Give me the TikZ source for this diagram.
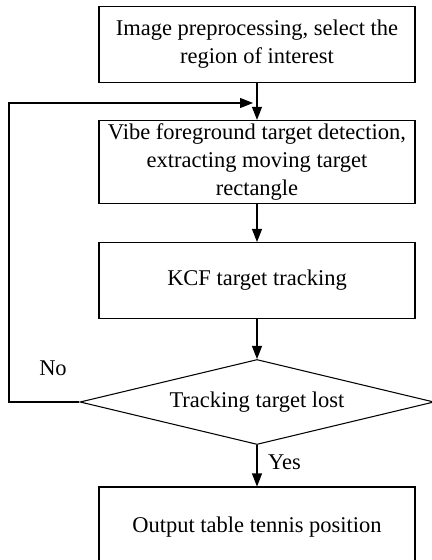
\documentclass[tikz,border=0pt]{standalone}
\usepackage{fontspec}
\setmainfont{Liberation Serif}
\usepackage{tikz}
\usetikzlibrary{arrows.meta,positioning,calc,shapes.geometric}

\begin{document}
\begin{tikzpicture}[
  font=\fontsize{12.8}{15.8}\selectfont,
  box/.style={draw,line width=0.6pt,align=center,inner sep=2pt,
              minimum width=6.32cm,minimum height=1.52cm},
  test/.style={draw,diamond,line width=0.6pt,inner sep=0pt,aspect=4.16,
               minimum width=7.08cm,minimum height=1.7cm},
  flow/.style={-{Triangle[length=2.6mm,width=2mm]},line width=0.6pt},
  lbl/.style={inner sep=2pt},
]
  \useasboundingbox (0,0) rectangle (8.62,-11.2);

  \node[box]  (prep)  at (5.14,-0.89)  {Image preprocessing, select the\\
                                        region of interest};
  \node[box]  (vibe)  at (5.14,-3.24)  {Vibe foreground target detection,\\
                                        extracting moving target\\
                                        rectangle};
  \node[box]  (kcf)   at (5.14,-5.61)  {KCF target tracking};
  \node[test] (lost)  at (5.14,-8.04)  {Tracking target lost};
  \node[box,minimum height=1.62cm]
              (out)   at (5.14,-10.55) {Output table tennis position};

  \coordinate (back) at (5.06,-2.06);
  \coordinate (turn) at (0.18,-2.06);

  \draw[flow] (prep) -- (vibe);
  \draw[flow] (vibe) -- (kcf);
  \draw[flow] (kcf) -- (lost);
  \draw[flow] (lost) -- node[lbl,right,xshift=4pt,yshift=2pt] {Yes} (out);

  % loop back when the target is lost
  \draw[flow] (lost.west) -| (turn) -- (back);
  \node[lbl] (no) at (1.06,-7.36) {No};
\end{tikzpicture}
\end{document}
